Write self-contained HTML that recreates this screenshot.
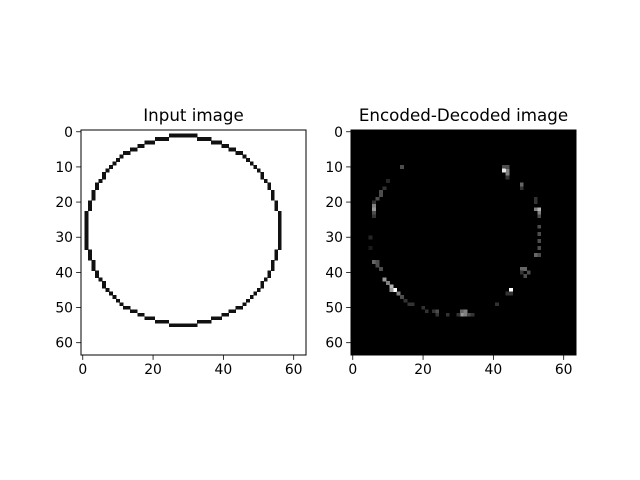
<!DOCTYPE html>
<html><head><meta charset="utf-8"><style>
html,body{margin:0;padding:0;background:#fff;}
svg{display:block;font-family:"DejaVu Sans","Liberation Sans",sans-serif;}
</style></head><body>
<svg id="fig" width="640" height="480" viewBox="0 0 640 480">
<rect width="640" height="480" fill="#fff"/>
</svg>
<script>
// ---- data ----
const ringLeftStart = [1,1,1,1,1,1,2,2,2,3,3,3,4,4,5,6,6,7,8,9,10,11,12,14,16,18,21,25];
const ringLeftEnd   = [1,1,1,1,1,1,2,2,2,3,3,3,4,4,5,6,6,7,8,9,10,11,13,15,17,20,24,28];
const ringCenterRow = 28;
const encCols = [14,43,44,43,44,44,44,48,48,10,9,8,8,7,6,6,6,6,6,5,5,52,52,52,53,53,53,53,53,53,53,52,53,48,49,50,48,49,45,44,45,41,6,7,7,8,9,10,11,12,11,13,14,15,16,17,20,21,24,23,24,27,31,32,31,32,33,30,34];
const encRows = [10,10,11,11,10,12,13,15,16,14,16,17,18,19,20,21,22,23,24,30,33,19,20,22,22,23,24,27,29,31,33,35,35,39,39,40,40,41,45,46,46,49,37,37,38,39,42,43,44,45,45,46,47,48,49,49,50,51,51,51,52,52,51,51,52,52,52,52,52];
const encVals = [0.3,0.3,0.5,0.9,0.3,0.5,0.2,0.4,0.2,0.15,0.2,0.3,0.3,0.3,0.2,0.5,0.6,0.3,0.2,0.15,0.1,0.2,0.2,0.5,0.7,0.5,0.3,0.3,0.3,0.3,0.3,0.4,0.3,0.4,0.4,0.3,0.2,0.3,1.0,0.2,0.2,0.2,0.4,0.3,0.3,0.3,0.6,0.5,0.7,1.0,0.6,0.5,0.3,0.2,0.2,0.2,0.2,0.2,0.3,0.2,0.2,0.2,0.4,0.5,0.6,0.5,0.3,0.2,0.2];
const xTicks = [0,20,40,60];
const yTicks = [0,10,20,30,40,50,60];
const N = 64;

const NS = "http://www.w3.org/2000/svg";
const svg = document.getElementById('fig');
function mk(tag, attrs, parent){const e=document.createElementNS(NS,tag);for(const k in attrs)e.setAttribute(k,attrs[k]);(parent||svg).appendChild(e);return e;}

function makeAxes(x0, y0, size, title, bg, name){
  const g = mk('g',{});
  
  
  const px = size / N;
  const sx = v => x0 + (v + 0.5) * px;
  const sy = v => y0 + (v + 0.5) * px;
  const bgR = mk('rect',{x:x0,y:y0,width:size,height:size,fill:bg},g);
  
  
  const cells = mk('g',{'shape-rendering':'crispEdges'},g);
  
  
  // frame
  const fr = mk('rect',{x:x0,y:y0,width:size,height:size,fill:'none',stroke:'#000','stroke-width':1},g);
  
  
  xTicks.forEach(t=>{
    const X = sx(t);
    const l = mk('line',{x1:X,x2:X,y1:y0+size,y2:y0+size+4.9,stroke:'#000','stroke-width':0.8},g);
    
    
    const tx = mk('text',{x:X,y:y0+size+19,'font-size':13.9,'text-anchor':'middle',fill:'#000'},g);
    
    
    tx.textContent = t;
  });
  yTicks.forEach(t=>{
    const Y = sy(t);
    const l = mk('line',{x1:x0-4.9,x2:x0,y1:Y,y2:Y,stroke:'#000','stroke-width':0.8},g);
    
    
    const tx = mk('text',{x:x0-8,y:Y+5,'font-size':13.9,'text-anchor':'end',fill:'#000'},g);
    
    
    tx.textContent = t;
  });
  const ti = mk('text',{x:x0+size/2,y:y0-9,'font-size':16.7,'text-anchor':'middle',fill:'#000'},g);
  
  
  ti.textContent = title;
  return {cells, px, x0, y0};
}

function cell(ax, c, r, color){
  const e = mk('rect',{x:ax.x0+c*ax.px,y:ax.y0+r*ax.px,width:ax.px+0.3,height:ax.px+0.3,fill:color},ax.cells);
  
  
}

const size = 225;
const axL = makeAxes(81, 130, size, 'Input image', '#fff', 'input-image-axes');
const axR = makeAxes(351, 130, size, 'Encoded-Decoded image', '#000', 'encoded-image-axes');

// input ring
for(let dy=0; dy<ringLeftStart.length; dy++){
  const rows = dy===0 ? [ringCenterRow] : [ringCenterRow-dy, ringCenterRow+dy];
  rows.forEach(r=>{
    for(let c=ringLeftStart[dy]; c<=ringLeftEnd[dy]; c++){
      cell(axL, c, r, '#111');
      const m = 57 - c;
      if(m !== c) cell(axL, m, r, '#111');
    }
  });
}
// encoded pixels
for(let i=0;i<encCols.length;i++){
  const v = Math.round(encVals[i]*255);
  cell(axR, encCols[i], encRows[i], `rgb(${v},${v},${v})`);
}
</script>
</body></html>
